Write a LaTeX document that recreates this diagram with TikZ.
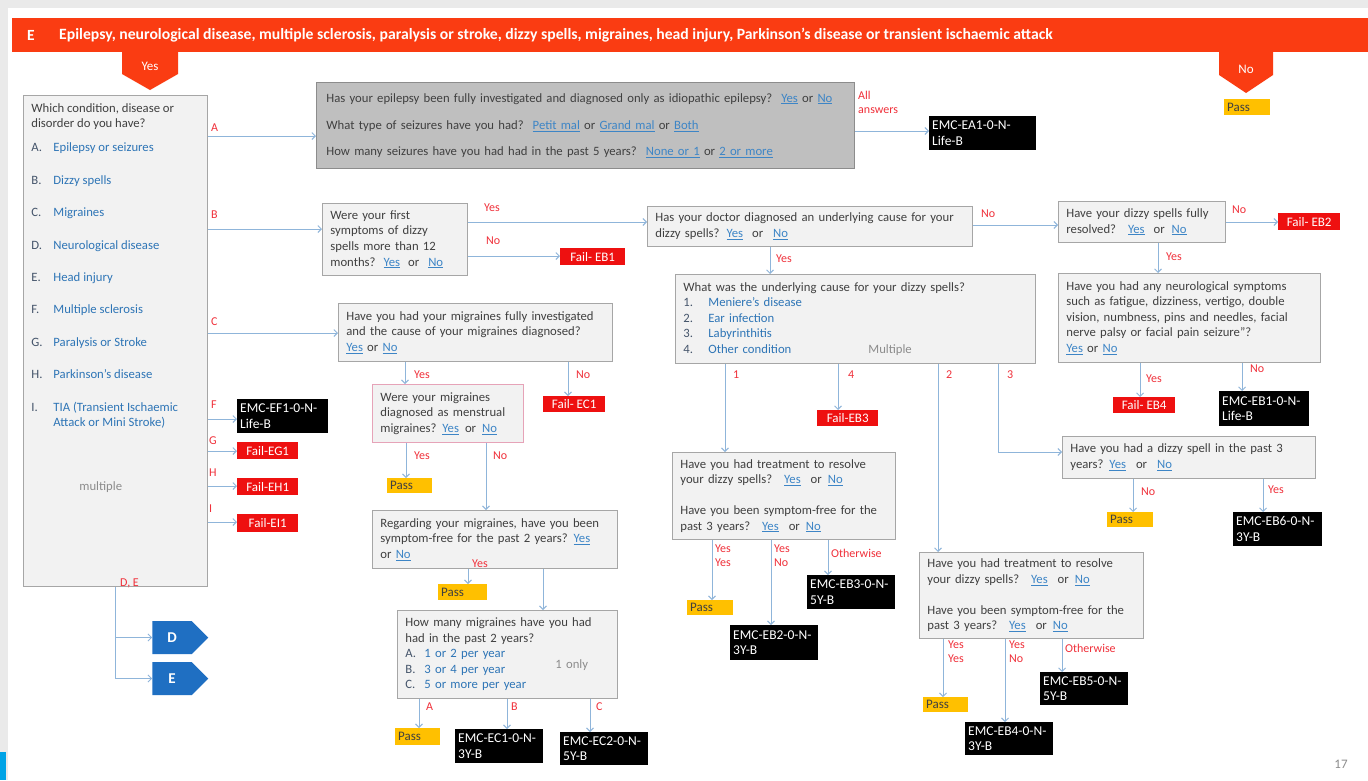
\documentclass[tikz,border=0pt]{standalone}
\usepackage{fontspec}
\setmainfont{Carlito}
\usetikzlibrary{arrows.meta,shapes.symbols}

\definecolor{hdr}{HTML}{FA3C12}
\definecolor{pagegray}{HTML}{EAEAEA}
\definecolor{boxfill}{HTML}{F2F2F2}
\definecolor{boxline}{HTML}{A6A6A6}
\definecolor{aboxfill}{HTML}{BFBFBF}
\definecolor{aboxline}{HTML}{8C8C8C}
\definecolor{pinkline}{HTML}{E6A3B8}
\definecolor{txt}{HTML}{404040}
\definecolor{linkblue}{HTML}{3D85C6}
\definecolor{itemblue}{HTML}{2E75B6}
\definecolor{itemgray}{HTML}{44546A}
\definecolor{multgray}{HTML}{8C8C8C}
\definecolor{labred}{HTML}{F0303A}
\definecolor{arrcol}{HTML}{8FB5DA}
\definecolor{failred}{HTML}{EE1010}
\definecolor{passy}{HTML}{FFC000}
\definecolor{sigblue}{HTML}{1F6FC2}
\definecolor{cornerblue}{HTML}{00A3E6}

\newcommand\lk[1]{{\color{linkblue}\underline{#1}}}
\newcommand\li[3][22pt]{\makebox[#1][l]{\color{itemgray}#2}{\color{itemblue}#3}}

\tikzset{
  tx/.style={font=\fontsize{12.7}{15.6}\selectfont, text=txt},
  qbox/.style={tx, draw=boxline, fill=boxfill, line width=0.8pt, anchor=north west, align=left, inner xsep=8pt, inner ysep=3pt},
  res/.style={fill=black, text=white, anchor=north west, align=left, inner xsep=3pt, inner ysep=1pt, font=\fontsize{13.5}{15.5}\selectfont},
  fail/.style={fill=failred, text=white, anchor=north west, inner sep=0pt, align=center, font=\fontsize{13}{14}\selectfont},
  pass/.style={fill=passy, text=txt, anchor=north west, inner xsep=3pt, inner ysep=0pt, align=left, font=\fontsize{13}{14}\selectfont},
  lab/.style={text=labred, anchor=west, inner sep=0pt, font=\fontsize{12}{14}\selectfont},
  labs/.style={text=labred, anchor=north west, inner sep=0pt, align=left, font=\fontsize{12}{14}\selectfont},
  arr/.style={draw=arrcol, line width=0.9pt, -{Straight Barb[length=3.5pt,width=7pt]}},
  sig/.style={signal, signal to=east, signal pointer angle=90, fill=sigblue, text=white, minimum width=56pt, minimum height=33pt, inner sep=0pt, font=\bfseries\fontsize{15}{16}\selectfont},
}

\begin{document}
\begin{tikzpicture}[x=1pt,y=-1pt]
\useasboundingbox (0,0) rectangle (1368,780);
\fill[pagegray] (0,0) rectangle (1368,780);
\fill[white] (8,8) rectangle (1368,780);
\fill[cornerblue] (0,752) rectangle (6,780);

% header
\fill[hdr] (12,18) rectangle (1368,52);
\node[anchor=west, text=white, inner sep=0pt, font=\bfseries\fontsize{15.5}{16}\selectfont] (hE) at (27,35) {E};
\node[anchor=west, text=white, inner sep=0pt, font=\bfseries\fontsize{15.7}{17}\selectfont] (ttl) at (59,35) {Epilepsy, neurological disease, multiple sclerosis, paralysis or stroke, dizzy spells, migraines, head injury, Parkinson's disease or transient ischaemic attack};
\fill[hdr] (122,50) -- (178,50) -- (178,74) -- (150,90) -- (122,74) -- cycle;
\node[text=white, font=\fontsize{13}{14}\selectfont] (yes) at (150,66) {Yes};
\fill[hdr] (1219,50) -- (1273,50) -- (1273,75) -- (1246,93) -- (1219,75) -- cycle;
\node[text=white, font=\fontsize{13}{14}\selectfont] (no) at (1246,69) {No};
\node[pass, text width=40pt, minimum height=16pt] (P0) at (1224,99) {Pass};

% left question box
\node[qbox, inner ysep=8pt, minimum width=184pt, minimum height=491pt] (L) at (23,95) {\begin{minipage}[t][475pt][t]{168pt}
Which condition, disease or\\
disorder do you have?\\[8.4pt]
\li{A.}{Epilepsy or seizures}\\[16.8pt]
\li{B.}{Dizzy spells}\\[16.8pt]
\li{C.}{Migraines}\\[16.8pt]
\li{D.}{Neurological disease}\\[16.8pt]
\li{E.}{Head injury}\\[16.8pt]
\li{F.}{Multiple sclerosis}\\[16.8pt]
\li{G.}{Paralysis or Stroke}\\[16.8pt]
\li{H.}{Parkinson's disease}\\[16.8pt]
\li{I.}{TIA (Transient Ischaemic}\\
\hspace*{22pt}{\color{itemblue}Attack or Mini Stroke)}\\[48pt]
\hspace*{48pt}{\color{multgray}multiple}
\end{minipage}};

% A branch
\node[qbox, fill=aboxfill, draw=aboxline, inner xsep=10pt, text width=518pt, minimum height=86pt] (A) at (316,82) {Has your epilepsy been fully investigated and diagnosed only as idiopathic epilepsy?\hspace{9pt}\lk{Yes} or \lk{No}\\[12pt]What type of seizures have you had?\hspace{9pt}\lk{Petit mal} or \lk{Grand mal} or \lk{Both}\\[10pt]How many seizures have you had had in the past 5 years?\hspace{9pt}\lk{None or 1} or \lk{2 or more}};
\node[res, text width=101pt, minimum height=34pt] (EA1) at (929,116) {EMC-EA1-0-N-\\Life-B};
\node[labs] (allans) at (858,91) {All\\answers};

% B branch
\node[qbox, text width=129pt, minimum height=72pt] (B1) at (322,203) {Were your first\\symptoms of dizzy\\spells more than 12\\months?\hspace{8pt}\lk{Yes}\hspace{8pt}or\hspace{9pt}\lk{No}};
\node[fail, minimum width=65pt, minimum height=17pt] (FEB1) at (560,248) {Fail- EB1};
\node[qbox, text width=309pt, minimum height=40pt] (B2) at (647,206) {Has your doctor diagnosed an underlying cause for your\\dizzy spells?\hspace{7pt}\lk{Yes}\hspace{9pt}or\hspace{10pt}\lk{No}};
\node[qbox, text width=151pt, minimum height=41pt] (B3) at (1058,201) {Have your dizzy spells fully\\resolved?\hspace{12pt}\lk{Yes}\hspace{9pt}or\hspace{7pt}\lk{No}};
\node[fail, minimum width=62pt, minimum height=17pt] (FEB2) at (1278,213) {Fail- EB2};
\node[qbox, text width=246pt, minimum height=89pt] (B5) at (1058,273) {Have you had any neurological symptoms\\such as fatigue, dizziness, vertigo, double\\vision, numbness, pins and needles, facial\\nerve palsy or facial pain seizure''?\\\lk{Yes} or \lk{No}};
\node[fail, minimum width=62pt, minimum height=16pt] (FEB4) at (1113,397) {Fail- EB4};
\node[res, text width=84pt, minimum height=35pt] (EB1) at (1219,391) {EMC-EB1-0-N-\\Life-B};
\node[qbox, text width=344pt, minimum height=89pt] (B4) at (675,274) {What was the underlying cause for your dizzy spells?\\\li[25pt]{1.}{Meniere's disease}\\\li[25pt]{2.}{Ear infection}\\\li[25pt]{3.}{Labyrinthitis}\\\makebox[185pt][l]{\li[25pt]{4.}{Other condition}}{\color{multgray}Multiple}};
\node[fail, minimum width=61pt, minimum height=16pt] (FEB3) at (817,410) {Fail-EB3};
\node[qbox, text width=207pt, minimum height=87pt] (B6) at (672,452) {Have you had treatment to resolve\\your dizzy spells?\hspace{12pt}\lk{Yes}\hspace{10pt}or\hspace{6pt}\lk{No}\\[15pt]Have you been symptom-free for the\\past 3 years?\hspace{12pt}\lk{Yes}\hspace{10pt}or\hspace{6pt}\lk{No}};
\node[pass, text width=40pt, minimum height=15pt] (P1) at (687,600) {Pass};
\node[res, text width=82pt, minimum height=35pt] (EB2) at (730,625) {EMC-EB2-0-N-\\3Y-B};
\node[res, text width=82pt, minimum height=34pt] (EB3) at (807,575) {EMC-EB3-0-N-\\5Y-B};
\node[qbox, text width=208pt, minimum height=86pt] (B7) at (919,552) {Have you had treatment to resolve\\your dizzy spells?\hspace{12pt}\lk{Yes}\hspace{10pt}or\hspace{6pt}\lk{No}\\[15pt]Have you been symptom-free for the\\past 3 years?\hspace{12pt}\lk{Yes}\hspace{10pt}or\hspace{6pt}\lk{No}};
\node[pass, text width=39pt, minimum height=15pt] (P2) at (923,697) {Pass};
\node[res, text width=82pt, minimum height=33pt] (EB4) at (965,722) {EMC-EB4-0-N-\\3Y-B};
\node[res, text width=82pt, minimum height=33pt] (EB5) at (1040,672) {EMC-EB5-0-N-\\5Y-B};
\node[qbox, text width=237pt, minimum height=42pt] (B8) at (1062,436) {Have you had a dizzy spell in the past 3\\years?\hspace{6pt}\lk{Yes}\hspace{10pt}or\hspace{10pt}\lk{No}};
\node[pass, text width=40pt, minimum height=15pt] (P3) at (1107,512) {Pass};
\node[res, text width=83pt, minimum height=34pt] (EB6) at (1233,512) {EMC-EB6-0-N-\\3Y-B};

% C branch
\node[qbox, text width=258pt, minimum height=58pt] (C1) at (338,303) {Have you had your migraines fully investigated\\and the cause of your migraines diagnosed?\\\lk{Yes} or \lk{No}};
\node[fail, minimum width=62pt, minimum height=16pt] (FEC1) at (543,396) {Fail- EC1};
\node[qbox, draw=pinkline, text width=135pt, minimum height=58pt] (C2) at (372,384) {Were your migraines\\diagnosed as menstrual\\migraines?\hspace{6pt}\lk{Yes}\hspace{6pt}or\hspace{6pt}\lk{No}};
\node[pass, text width=39pt, minimum height=15pt] (P4) at (387,478) {Pass};
\node[qbox, text width=229pt, minimum height=58pt] (C3) at (372,510) {Regarding your migraines, have you been\\symptom-free for the past 2 years?\hspace{6pt}\lk{Yes}\\or \lk{No}};
\node[pass, text width=43pt, minimum height=16pt] (P5) at (438,584) {Pass};
\node[qbox, text width=204pt, minimum height=88pt] (C4) at (397,610) {How many migraines have you had\\had in the past 2 years?\\\li[19pt]{A.}{1 or 2 per year}\\\makebox[150pt][l]{\li[19pt]{B.}{3 or 4 per year}}\smash{\raisebox{5pt}{\color{multgray}1 only}}\\\li[19pt]{C.}{5 or more per year}};
\node[pass, text width=39pt, minimum height=17pt] (P6) at (395,728) {Pass};
\node[res, text width=82pt, minimum height=34pt] (EC1) at (455,729) {EMC-EC1-0-N-\\3Y-B};
\node[res, text width=82pt, minimum height=33pt] (EC2) at (560,732) {EMC-EC2-0-N-\\5Y-B};

% F G H I outcomes
\node[res, text width=85pt, minimum height=34pt] (EF1) at (237,399) {EMC-EF1-0-N-\\Life-B};
\node[fail, minimum width=61pt, minimum height=17pt] (FEG1) at (237,442) {Fail-EG1};
\node[fail, minimum width=61pt, minimum height=17pt] (FEH1) at (237,478) {Fail-EH1};
\node[fail, minimum width=61pt, minimum height=18pt] (FEI1) at (237,514) {Fail-EI1};

% D, E
\node[sig] (D) at (172,637.5) {D\hspace{16pt}};
\node[sig] (E) at (172,678.5) {E\hspace{16pt}};

\node[text=multgray, font=\fontsize{13}{14}\selectfont] (pg) at (1341,764) {17};

% connectors from left box
\draw[arr] (L.east |- 0,136) -- (A.west |- 0,136);
\draw[arr] (L.east |- 0,229) -- (B1.west |- 0,229);
\draw[arr] (L.east |- 0,333) -- (C1.west |- 0,333);
\draw[arr] (L.east |- 0,419) -- (EF1.west |- 0,419);
\draw[arr] (L.east |- 0,451) -- (FEG1.west |- 0,451);
\draw[arr] (L.east |- 0,486) -- (FEH1.west |- 0,486);
\draw[arr] (L.east |- 0,522) -- (FEI1.west |- 0,522);
\draw[arr] (L.south) |- (E.west);
\draw[arr] (L.south |- D.west) -- (D.west);
\node[lab] at (211,128) {A};
\node[lab] at (211,215) {B};
\node[lab] at (211,322) {C};
\node[lab] at (211,405) {F};
\node[lab] at (209,441) {G};
\node[lab] at (209,473) {H};
\node[lab] at (209,509) {I};
\node[lab] at (120,583) {D, E};

% A
\draw[arr] (A.east |- 0,131) -- (EA1.west |- 0,131);

% B
\draw[arr] (B1.east |- 0,222) -- (B2.west |- 0,222);
\draw[arr] (B1.east |- 0,256) -- (FEB1.west |- 0,256);
\node[lab] at (484,208) {Yes};
\node[lab] at (486,241) {No};
\draw[arr] (B2.east |- 0,225) -- (B3.west |- 0,225);
\node[lab] at (981,214) {No};
\draw[arr] (B3.east |- 0,222) -- (FEB2.west |- 0,222);
\node[lab] at (1232,210) {No};
\draw[arr] (B2.south -| 770,0) -- (B4.north -| 770,0);
\node[lab] at (776,259) {Yes};
\draw[arr] (B3.south -| 1158,0) -- (B5.north -| 1158,0);
\node[lab] at (1166,257) {Yes};
\draw[arr] (B5.south -| 1140,0) -- (FEB4.north -| 1140,0);
\node[lab] at (1146,379) {Yes};
\draw[arr] (B5.south -| 1242,0) -- (EB1.north -| 1242,0);
\node[lab] at (1250,369) {No};

\draw[arr] (B4.south -| 725,0) -- (B6.north -| 725,0);
\draw[arr] (B4.south -| 838,0) -- (FEB3.north -| 838,0);
\draw[arr] (B4.south -| 938,0) -- (B7.north -| 938,0);
\draw[arr] (B4.south -| 998,0) |- (B8.west |- 0,452);
\node[lab] at (733,375) {1};
\node[lab] at (848,375) {4};
\node[lab] at (946,375) {2};
\node[lab] at (1007,375) {3};

\draw[arr] (B6.south -| 712,0) -- (P1.north -| 712,0);
\draw[arr] (B6.south -| 771,0) -- (EB2.north -| 771,0);
\draw[arr] (B6.south -| 828,0) -- (EB3.north -| 828,0);
\node[labs] at (715,545) {Yes\\Yes};
\node[labs] at (774,545) {Yes\\No};
\node[lab] at (831,553) {Otherwise};

\draw[arr] (B7.south -| 943,0) -- (P2.north -| 943,0);
\draw[arr] (B7.south -| 1005,0) -- (EB4.north -| 1005,0);
\draw[arr] (B7.south -| 1062,0) -- (EB5.north -| 1062,0);
\node[labs] at (948,641) {Yes\\Yes};
\node[labs] at (1009,641) {Yes\\No};
\node[lab] at (1065,648) {Otherwise};

\draw[arr] (B8.south -| 1133,0) -- (P3.north -| 1133,0);
\draw[arr] (B8.south -| 1263,0) -- (EB6.north -| 1263,0);
\node[lab] at (1141,492) {No};
\node[lab] at (1268,490) {Yes};

% C
\draw[arr] (C1.south -| 405,0) -- (C2.north -| 405,0);
\draw[arr] (C1.south -| 568,0) -- (FEC1.north -| 568,0);
\node[lab] at (414,375) {Yes};
\node[lab] at (576,375) {No};
\draw[arr] (C2.south -| 406,0) -- (P4.north -| 406,0);
\draw[arr] (C2.south -| 486,0) -- (C3.north -| 486,0);
\node[lab] at (414,456) {Yes};
\node[lab] at (493,456) {No};
\draw[arr] (C3.south -| 468,0) -- (P5.north -| 468,0);
\draw[arr] (C3.south -| 543,0) -- (C4.north -| 543,0);
\node[lab] at (472,564) {Yes};
\draw[arr] (C4.south -| 419,0) -- (P6.north -| 419,0);
\draw[arr] (C4.south -| 507,0) -- (EC1.north -| 507,0);
\draw[arr] (C4.south -| 590,0) -- (EC2.north -| 590,0);
\node[lab] at (426,707) {A};
\node[lab] at (511,707) {B};
\node[lab] at (596,707) {C};
\end{tikzpicture}
\end{document}
